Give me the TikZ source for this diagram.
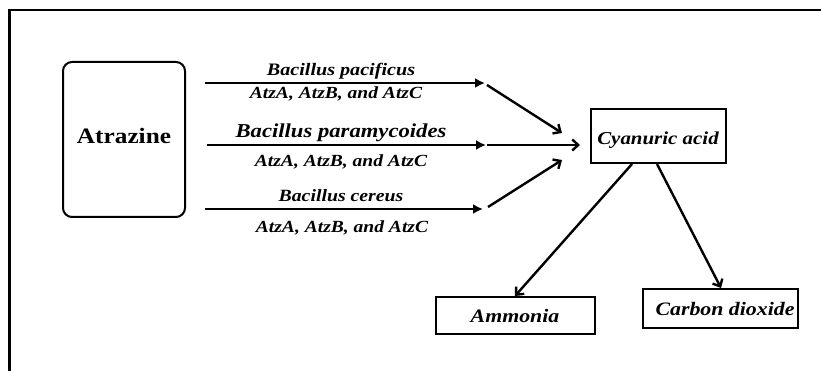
\documentclass[tikz,border=0pt]{standalone}
\usepackage{fontspec}
\setmainfont{Liberation Serif}[FakeStretch=1.15]
\usetikzlibrary{arrows.meta}
\begin{document}
\begin{tikzpicture}[x=1pt,y=-1pt,
  lab/.style={font=\bfseries\itshape\fontsize{#1pt}{#1pt}\selectfont, inner sep=0pt, anchor=base},
  boxnode/.style={draw, line width=2.4pt, inner sep=0pt},
  harrow/.style={line width=2.4pt, -{Latex[length=10pt,width=10pt]}},
  carrow/.style={line width=2.4pt, -{Straight Barb[length=6pt,width=11pt,line width=2.4pt]}}]
\useasboundingbox (0,0) rectangle (821,371);
% frame
\draw[line width=2.6pt] (9.5,371) -- (9.5,10) -- (821,10);
% boxes
\node[boxnode, rounded corners=9pt, line width=2pt, minimum width=122pt, minimum height=155pt] (atr) at (124,139.5) {};
\node[font=\bfseries\fontsize{22pt}{22pt}\selectfont, inner sep=0pt, anchor=base] (atrt) at (124,144) {Atrazine};
\node[boxnode, minimum width=135pt, minimum height=54pt] (cya) at (658.5,136) {};
\node[lab=18.2] (cyat) at (658,145) {Cyanuric acid};
\node[boxnode, minimum width=159pt, minimum height=37pt] (amm) at (515.5,315.5) {};
\node[lab=19] (ammt) at (515,322) {Ammonia};
\node[boxnode, minimum width=155pt, minimum height=39pt] (co2) at (720.5,308.5) {};
\node[lab=19] (co2t) at (725,315) {Carbon dioxide};
% horizontal arrows
\coordinate (h1s) at (205,83);  \coordinate (h1e) at (485,83);
\coordinate (h2s) at (207,145); \coordinate (h2e) at (486,145);
\coordinate (h3s) at (205,209); \coordinate (h3e) at (483,209);
\draw[harrow] (h1s) -- (h1e);
\draw[harrow] (h2s) -- (h2e);
\draw[harrow] (h3s) -- (h3e);
% labels
\node[lab=17.5] (l1) at (341,76) {Bacillus pacificus};
\node[lab=17] (s1) at (336,99) {AtzA, AtzB, and AtzC};
\node[lab=19.7] (l2) at (341,138) {Bacillus paramycoides};
\node[lab=17] (s2) at (341,167) {AtzA, AtzB, and AtzC};
\node[lab=17.2] (l3) at (341,202) {Bacillus cereus};
\node[lab=17] (s3) at (342,233) {AtzA, AtzB, and AtzC};
% converging arrows
\coordinate (c1s) at (487,85);  \coordinate (c1e) at (562,133);
\coordinate (c2s) at (487,145); \coordinate (c2e) at (580,145);
\coordinate (c3s) at (488,207); \coordinate (c3e) at (562,160);
\draw[carrow] (c1s) -- (c1e);
\draw[carrow] (c2s) -- (c2e);
\draw[carrow] (c3s) -- (c3e);
% product arrows
\coordinate (p1s) at (632,164); \coordinate (p1e) at (515,296);
\coordinate (p2s) at (657,164); \coordinate (p2e) at (721,288);
\draw[carrow] (p1s) -- (p1e);
\draw[carrow] (p2s) -- (p2e);
\end{tikzpicture}
\end{document}
